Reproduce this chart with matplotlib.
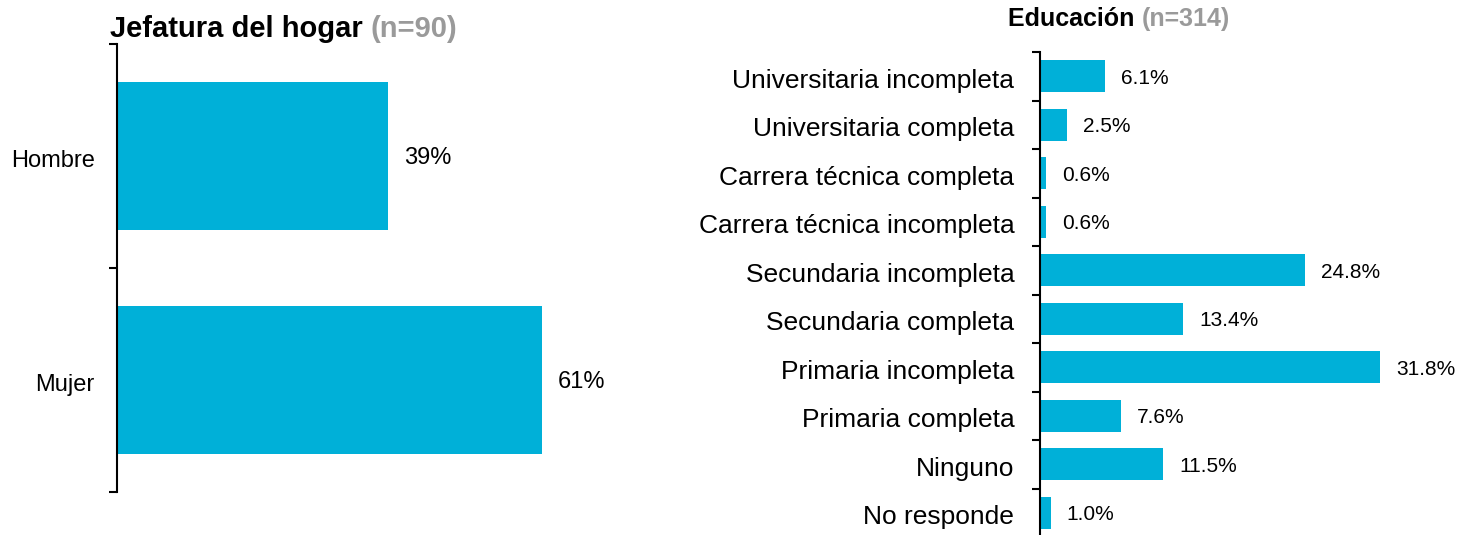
import matplotlib
matplotlib.use("Agg")
import matplotlib.pyplot as plt
import matplotlib.transforms as mtransforms

plt.rcParams['font.family'] = ['Liberation Sans', 'DejaVu Sans']

# data
jefatura_labels = ['Hombre', 'Mujer']
jefatura_values = [39, 61]

educ_labels = ['Universitaria incompleta', 'Universitaria completa',
               'Carrera técnica completa', 'Carrera técnica incompleta',
               'Secundaria incompleta', 'Secundaria completa',
               'Primaria incompleta', 'Primaria completa',
               'Ninguno', 'No responde']
educ_values = [6.1, 2.5, 0.6, 0.6, 24.8, 13.4, 31.8, 7.6, 11.5, 1.0]

BAR = '#00B0D8'
GREY = '#9A9A9A'
W, H = 1460, 535

fig = plt.figure(figsize=(W / 100, H / 100), dpi=100)


def px_axes(left, top, right, bottom):
    return fig.add_axes([left / W, 1 - bottom / H, (right - left) / W, (bottom - top) / H])


def style(ax, n, pad, size):
    for s in ['top', 'right', 'bottom']:
        ax.spines[s].set_visible(False)
    ax.spines['left'].set_linewidth(1.5)
    ax.set_xticks([])
    ax.set_ylim(n - 0.5, -0.5)
    ax.set_yticks(range(n))
    ax.set_yticks([i - 0.5 for i in range(n + 1)], minor=True)
    ax.tick_params(axis='y', which='major', length=0, pad=pad, labelsize=size)
    ax.tick_params(axis='y', which='minor', length=6, width=1.5, direction='out')
    # nudge tick labels down a little
    shift = mtransforms.ScaledTranslation(0, -1.5 / 72, fig.dpi_scale_trans)
    for lab in ax.get_yticklabels():
        lab.set_transform(lab.get_transform() + shift)


# left chart
ax1 = px_axes(117, 44, 617, 492)
ax1.barh(range(len(jefatura_values)), jefatura_values, height=0.665, color=BAR)
ax1.set_xlim(0, 500 / 6.96)
ax1.set_yticks(range(len(jefatura_labels)))
ax1.set_yticklabels(jefatura_labels)
style(ax1, len(jefatura_values), 16, 17)
for i, v in enumerate(jefatura_values):
    ax1.annotate(f'{v}%', (v, i), xytext=(11.5, -1.5), textcoords='offset points',
                 va='center', ha='left', fontsize=17)

# right chart
ax2 = px_axes(1040, 52, 1460, 537)
ax2.barh(range(len(educ_values)), educ_values, height=0.65, color=BAR)
ax2.set_xlim(0, 420 / 10.69)
ax2.set_yticks(range(len(educ_labels)))
ax2.set_yticklabels(educ_labels)
style(ax2, len(educ_values), 18.5, 19)
for i, v in enumerate(educ_values):
    ax2.annotate(f'{v:.1f}%', (v, i), xytext=(11.5, -1.5), textcoords='offset points',
                 va='center', ha='left', fontsize=15)


def two_part_title(x, y, main, extra, size):
    t = fig.text(x / W, 1 - y / H, main + ' ', fontsize=size, fontweight='bold',
                 color='black', va='center', ha='left')
    fig.canvas.draw()
    bb = t.get_window_extent()
    fig.text(bb.x1 / W, 1 - y / H, extra, fontsize=size, fontweight='bold',
             color=GREY, va='center', ha='left')


two_part_title(110, 29, 'Jefatura del hogar', '(n=90)', 21)
two_part_title(1008, 19, 'Educación', '(n=314)', 18)

fig.savefig('out.png', dpi=100)
